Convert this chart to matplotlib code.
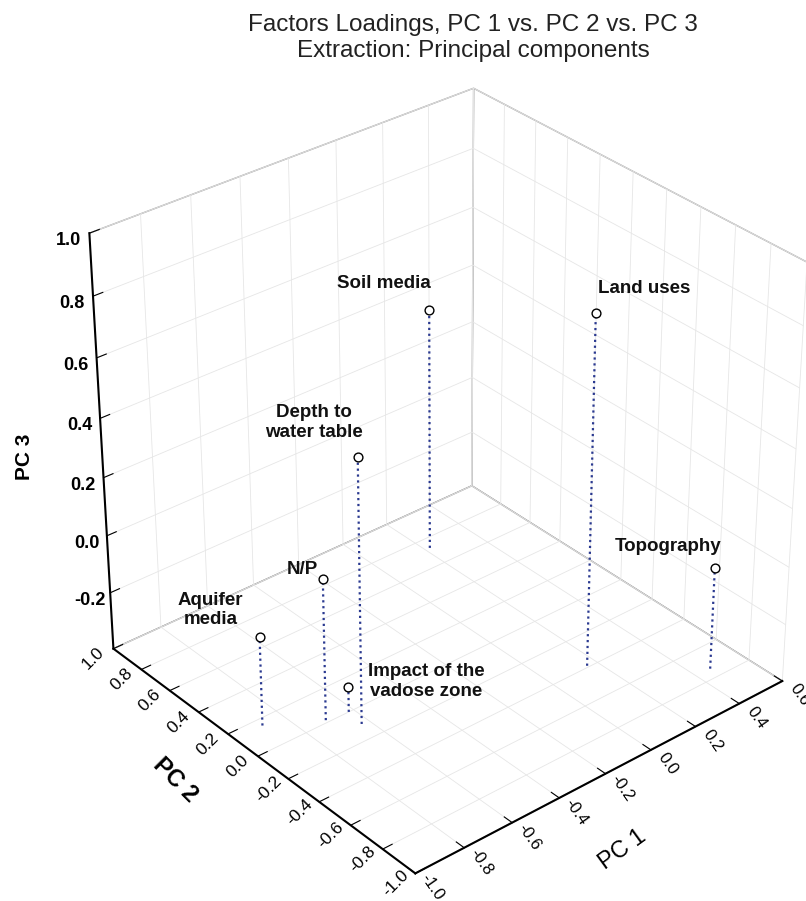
import numpy as np
import matplotlib.pyplot as plt
from mpl_toolkits.mplot3d import proj3d

# factor loadings
names = ['Soil media', 'Land uses', 'Depth to\nwater table', 'N/P',
         'Topography', 'Aquifer\nmedia', 'Impact of the\nvadose zone']
pc1 = [0.22, 0.16, -0.63, -0.707, 0.465, -0.885, -0.62]
pc2 = [0.73, -0.39, -0.10, 0.016, -0.74, 0.155, 0.00]
pc3 = [0.447, 0.795, 0.505, 0.09, -0.045, -0.09, -0.31]

pc1_ticks = [-1.0, -0.8, -0.6, -0.4, -0.2, 0.0, 0.2, 0.4, 0.6]
pc2_ticks = [-1.0, -0.8, -0.6, -0.4, -0.2, 0.0, 0.2, 0.4, 0.6, 0.8, 1.0]
pc3_ticks = [-0.2, 0.0, 0.2, 0.4, 0.6, 0.8, 1.0]

# label offsets in pixels from each marker
label_dx = [-45, 48, -44, -20, -47, -49, 78]
label_dy = [26, 25, 35, 10, 22, 27, 5]

plt.rcParams['font.family'] = ['Liberation Sans', 'DejaVu Sans']
plt.rcParams['grid.color'] = '#e6e6e6'
plt.rcParams['grid.linewidth'] = 0.6

fig = plt.figure(figsize=(8.06, 9.01), dpi=100)
ax = fig.add_axes([0.0395, 0.0, 1.0, 0.947], projection='3d',
                  proj_type='persp', focal_length=0.85, computed_zorder=False)
ax.view_init(elev=32, azim=-130.2)
ax.set_box_aspect((1, 1, 1.0), zoom=1.025)

zmin = -0.4
ax.set_xlim(-1.0, 0.6)
ax.set_ylim(-1.0, 1.0)
ax.set_zlim(zmin, 1.0)

for a in (ax.xaxis, ax.yaxis, ax.zaxis):
    a.set_pane_color((1, 1, 1, 1))
    a.pane.set_edgecolor('#a0a0a0')
    a.line.set_color('black')
    a.line.set_linewidth(1.5)
    a._axinfo['tick']['inward_factor'] = 0.0
    a._axinfo['tick']['outward_factor'] = 0.3

# drop lines to the floor
for x, y, z in zip(pc1, pc2, pc3):
    ax.plot([x, x], [y, y], [zmin, z], linestyle=':', color='#2a3990',
            linewidth=1.6, zorder=2)

ax.scatter(pc1, pc2, pc3, s=40, facecolors='white', edgecolors='black',
           linewidths=1.0, depthshade=False, zorder=3)

ax.set_xticks(pc1_ticks)
ax.set_xticklabels([])
ax.set_yticks(pc2_ticks)
ax.set_yticklabels([])
ax.set_zticks(pc3_ticks)
ax.set_zticklabels([f'{v:.1f}' for v in pc3_ticks], fontsize=13, fontweight='bold')
ax.tick_params(axis='z', pad=1)

M = ax.get_proj()

def screen(x, y, z):
    x2, y2, _ = proj3d.proj_transform(x, y, z, M)
    return x2, y2

# floor tick labels placed beside the two floor axes
for t in pc1_ticks:
    ax.annotate(f'{t:.1f}', xy=screen(t, -1.0, zmin), xytext=(17, -14),
                textcoords='offset pixels', ha='center', va='center',
                rotation=-55, fontsize=12)
for t in pc2_ticks:
    ax.annotate(f'{t:.1f}', xy=screen(-1.0, t, zmin), xytext=(-20, -10),
                textcoords='offset pixels', ha='center', va='center',
                rotation=45, fontsize=12.5)

for i, name in enumerate(names):
    ax.annotate(name, xy=screen(pc1[i], pc2[i], pc3[i]),
                xytext=(label_dx[i], label_dy[i]),
                textcoords='offset pixels', ha='center', va='center',
                fontsize=13.5, fontweight='bold', color='#111111')

# axis titles
fig.text(623 / 806, 1 - 850 / 901, 'PC 1', fontsize=17, rotation=36,
         ha='center', va='center')
fig.text(175 / 806, 1 - 780 / 901, 'PC 2', fontsize=17, fontweight='bold',
         rotation=-45, ha='center', va='center')
fig.text(24 / 806, 1 - 457 / 901, 'PC 3', fontsize=15, fontweight='bold',
         rotation=90, ha='center', va='center')

fig.suptitle('Factors Loadings, PC 1 vs. PC 2 vs. PC 3\nExtraction: Principal components',
             fontsize=17.5, y=0.984, x=473 / 806, color='#222222')

plt.savefig('out.png', dpi=100)
